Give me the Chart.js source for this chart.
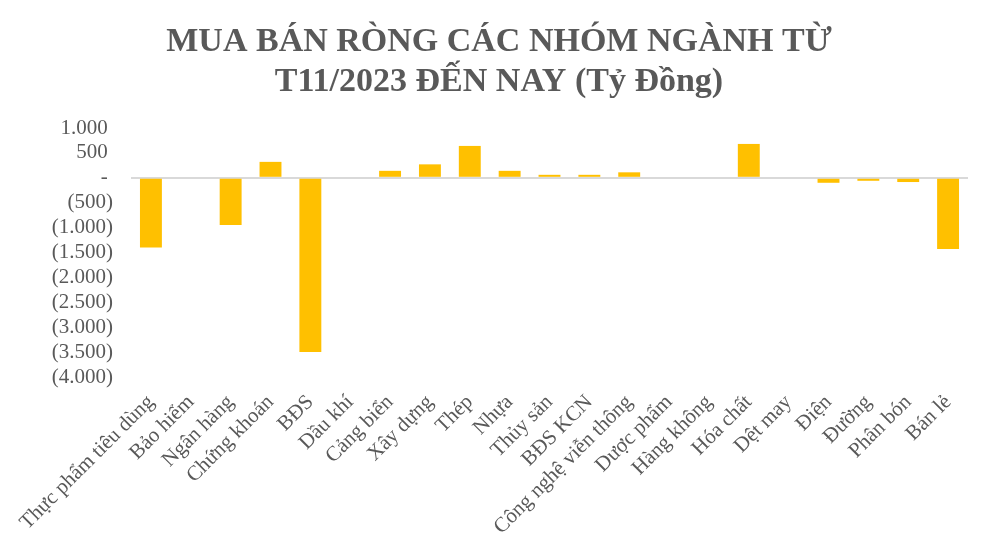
<!DOCTYPE html>
<html>
<head>
<meta charset="utf-8">
<script src="https://cdn.jsdelivr.net/npm/chart.js@4.4.1/dist/chart.umd.min.js"></script>
<style>
  html, body { margin: 0; padding: 0; background: #ffffff; }
  #wrap { width: 994px; height: 558px; position: relative; }
</style>
</head>
<body>
<div id="wrap"><canvas id="c" width="994" height="558"></canvas></div>
<script>
const titleLines = ["MUA BÁN RÒNG CÁC NHÓM NGÀNH TỪ", "T11/2023 ĐẾN NAY (Tỷ Đồng)"];
const categories = [
  "Thực phẩm tiêu dùng", "Bảo hiểm", "Ngân hàng", "Chứng khoán", "BĐS",
  "Dầu khí", "Cảng biển", "Xây dựng", "Thép", "Nhựa", "Thủy sản", "BĐS KCN",
  "Công nghệ viễn thông", "Dược phẩm", "Hàng không", "Hóa chất", "Dệt may",
  "Điện", "Đường", "Phân bón", "Bán lẻ"
];
const netValues = [
  -1400, 0, -950, 320, -3500,
  0, 140, 270, 640, 140, 60, 60,
  110, 0, 0, 680, 0,
  -100, -60, -85, -1430
];
const yMin = -4000, yMax = 1000, yStep = 500;

const SERIF = '"Liberation Serif", "Times New Roman", serif';
const TEXT = '#595959';

function fmt(v) {
  if (v === 0) return '-\u2008';
  const s = Math.abs(v).toString().replace(/\B(?=(\d{3})+(?!\d))/g, '.');
  return v < 0 ? '(' + s + ')' : s + '\u2008';
}

new Chart(document.getElementById('c'), {
  type: 'bar',
  data: {
    labels: categories,
    datasets: [{
      data: netValues,
      backgroundColor: '#FFC000',
      borderWidth: 0,
      barPercentage: 1,
      categoryPercentage: 0.55
    }]
  },
  options: {
    responsive: false,
    animation: false,
    devicePixelRatio: 1,
    layout: { padding: { left: 30, right: 26, top: 0, bottom: 0 } },
    plugins: {
      legend: { display: false },
      tooltip: { enabled: false },
      title: {
        display: true,
        text: titleLines,
        color: TEXT,
        font: { family: SERIF, size: 34, weight: 'bold', lineHeight: 40 / 34 },
        padding: { top: 22, bottom: 26 }
      }
    },
    scales: {
      x: {
        grid: { display: false, drawTicks: false },
        border: { display: false },
        ticks: {
          autoSkip: false,
          minRotation: 45,
          maxRotation: 45,
          padding: 13,
          color: TEXT,
          font: { family: SERIF, size: 21 }
        },
        afterFit(scale) { scale.height = 181; }
      },
      y: {
        min: yMin,
        max: yMax,
        grid: {
          drawTicks: false,
          lineWidth: 2,
          color: (ctx) => (ctx.tick && ctx.tick.value === 0) ? '#d9d9d9' : 'rgba(0,0,0,0)'
        },
        border: { display: false },
        ticks: {
          autoSkip: false,
          stepSize: yStep,
          padding: 18,
          color: TEXT,
          font: { family: SERIF, size: 21 },
          callback: (v) => fmt(v)
        },
        afterFit(scale) { scale.width = 101; }
      }
    }
  }
});
</script>
</body>
</html>
